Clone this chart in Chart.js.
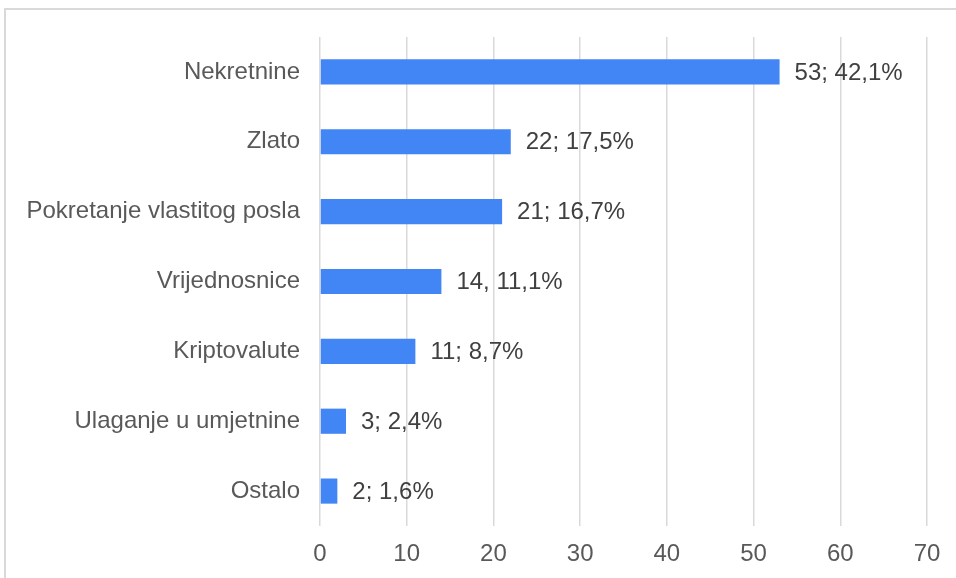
<!DOCTYPE html>
<html>
<head>
<meta charset="utf-8">
<script src="https://cdn.jsdelivr.net/npm/chart.js@4"></script>
<style>
  html, body { margin: 0; padding: 0; background: #fff; }
  #wrap { position: relative; width: 956px; height: 578px; overflow: hidden; }
  #frame { position: absolute; left: 4px; top: 8px; width: 1000px; height: 600px;
           border: 2px solid #d9d9d9; box-sizing: border-box; pointer-events: none; }
  canvas { position: absolute; left: 0; top: 0; }
</style>
</head>
<body>
<div id="wrap">
  <canvas id="myChart" width="956" height="578"></canvas>
  <div id="frame"></div>
</div>
<script>
const categories = ['Nekretnine', 'Zlato', 'Pokretanje vlastitog posla', 'Vrijednosnice', 'Kriptovalute', 'Ulaganje u umjetnine', 'Ostalo'];
const counts = [53, 22, 21, 14, 11, 3, 2];
const valueLabels = ['53; 42,1%', '22; 17,5%', '21; 16,7%', '14, 11,1%', '11; 8,7%', '3; 2,4%', '2; 1,6%'];
const xTicks = [0, 10, 20, 30, 40, 50, 60, 70];

const fontFamily = '"Liberation Sans", Arial, sans-serif';

// simple inline value labels (no datalabels plugin available)
const barLabels = {
    id: 'barLabels',
    afterDatasetsDraw(chart) {
        const c = chart.ctx;
        const meta = chart.getDatasetMeta(0);
        c.save();
        c.font = '24px ' + fontFamily;
        c.fillStyle = '#404040';
        c.textAlign = 'left';
        c.textBaseline = 'middle';
        meta.data.forEach((bar, i) => {
            c.fillText(valueLabels[i], bar.x + 15, bar.y + 1);
        });
        c.restore();
    }
};

const ctx = document.getElementById('myChart').getContext('2d');
const myChart = new Chart(ctx, {
    type: 'bar',
    data: {
        labels: categories,
        datasets: [{
            data: counts,
            backgroundColor: '#4285F4',
            borderWidth: 0,
            categoryPercentage: 0.36,
            barPercentage: 1,
        }]
    },
    options: {
        indexAxis: 'y',
        responsive: false,
        animation: false,
        layout: { padding: { top: 37, right: 29, left: 0, bottom: 0 } },
        plugins: {
            legend: { display: false },
            tooltip: { enabled: false }
        },
        scales: {
            x: {
                min: 0,
                max: 70,
                afterBuildTicks: (scale) => { scale.ticks = xTicks.map(v => ({ value: v })); },
                afterFit: (scale) => { scale.height = 52; },
                grid: { color: '#d9d9d9', lineWidth: 1.5, drawTicks: false },
                border: { display: false },
                ticks: {
                    padding: 14,
                    color: '#595959',
                    font: { family: fontFamily, size: 24 }
                }
            },
            y: {
                afterFit: (scale) => { scale.width = 320; },
                grid: { display: false, drawTicks: false },
                border: { display: false },
                ticks: {
                    padding: 20,
                    color: '#595959',
                    font: { family: fontFamily, size: 24 }
                }
            }
        }
    },
    plugins: [barLabels]
});
</script>
</body>
</html>
